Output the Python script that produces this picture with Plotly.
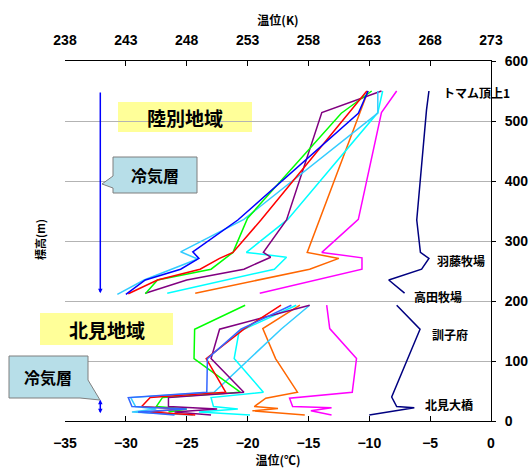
import plotly.graph_objects as go

# ---- 陸別地域 (upper profiles): height (m) and temperature (degC)
rk_blue_h = [211, 235, 253, 271, 282, 335, 513, 550]
rk_blue_t = [-30.0, -28.4, -25.5, -24.0, -24.5, -20.8, -10.9, -10.1]
rk_sky_h = [211, 235, 270, 282, 336, 513, 550]
rk_sky_t = [-30.7, -28.5, -24.1, -25.5, -20.3, -9.3, -9.3]
rk_aqua_h = [213, 253, 273, 281, 336, 514, 550]
rk_aqua_t = [-26.6, -17.8, -16.8, -20.1, -16.7, -9.3, -8.9]
rk_green_h = [212, 235, 253, 281, 338, 513, 550]
rk_green_t = [-28.4, -27.4, -23.0, -21.2, -20.0, -12.3, -9.8]
rk_red_h = [212, 235, 253, 271, 281, 335, 513, 550]
rk_red_t = [-29.8, -27.4, -23.9, -22.3, -21.2, -18.9, -11.7, -10.2]
rk_purple_h = [213, 235, 253, 273, 281, 335, 514, 550]
rk_purple_t = [-28.4, -25.0, -20.3, -18.1, -18.7, -16.8, -13.9, -9.0]
rk_orange_h = [213, 253, 271, 281, 550]
rk_orange_t = [-24.3, -14.9, -12.5, -15.1, -10.1]
rk_magenta_h = [213, 253, 272, 281, 336, 514, 550]
rk_magenta_t = [-19.0, -10.6, -10.6, -13.9, -10.9, -9.0, -7.75]

# ---- 北見地域 (lower profiles)
kt_blue_h = [193, 153, 104, 48, 39, 24, 20, 15, 10]
kt_blue_t = [-16.4, -20.55, -23.3, -23.35, -29.8, -29.5, -25.0, -29.0, -26.0]
kt_sky_h = [193, 153, 48, 39, 24, 20, 15, 10]
kt_sky_t = [-14.9, -17.25, -22.75, -29.6, -29.2, -27.5, -29.5, -24.5]
kt_green_h = [193, 153, 104, 48, 39, 24, 20, 15]
kt_green_t = [-20.2, -24.35, -24.4, -20.6, -27.0, -27.5, -25.0, -26.5]
kt_red_h = [193, 153, 104, 48, 39, 24, 20, 15, 10]
kt_red_t = [-17.25, -20.3, -23.4, -21.8, -28.0, -28.7, -25.5, -28.0, -24.3]
kt_purple_h = [193, 153, 104, 48, 39, 24, 20, 15, 10]
kt_purple_t = [-14.9, -22.3, -23.0, -20.3, -26.5, -26.5, -22.5, -26.0, -23.0]
kt_aqua_h = [193, 149, 104, 48, 39, 24, 20, 15, 10]
kt_aqua_t = [-16.0, -20.7, -21.1, -18.7, -23.0, -22.8, -20.8, -24.0, -19.8]
kt_orange_h = [193, 154, 104, 48, 38, 24, 21, 17, 10]
kt_orange_t = [-15.7, -18.75, -17.7, -15.9, -18.5, -19.45, -17.5, -19.6, -15.3]
kt_magenta_h = [193, 154, 104, 48, 38, 24, 22, 17, 10]
kt_magenta_t = [-13.5, -13.25, -11.05, -11.4, -16.55, -16.3, -13.1, -14.8, -13.1]

# ---- route profile with station names
route_up_h = [213, 235, 253, 271, 281, 335, 518, 550]
route_up_t = [-7.1, -8.4, -5.7, -5.1, -5.8, -6.1, -5.3, -5.1]
route_lo_h = [193, 153, 40, 24, 22, 10]
route_lo_t = [-7.75, -5.83, -8.16, -7.75, -6.3, -10.0]
station_names = ["トマム頂上1", "羽藤牧場", "高田牧場", "訓子府", "北見大橋"]
station_t = [-4.1, -4.6, -6.5, -5.0, -5.6]
station_h = [548, 268, 208, 145, 28]

# cold-air layer extents (m)
cold_upper = [213, 550]
cold_lower = [13, 38]
cold_x = -32.1

x_ticks_c = [-35, -30, -25, -20, -15, -10, -5, 0]
x_ticks_k = [238, 243, 248, 253, 258, 263, 268, 273]
y_ticks = [0, 100, 200, 300, 400, 500, 600]

C_BLUE, C_SKY, C_AQUA = "#0000FF", "#33CCFF", "#00FFFF"
C_GREEN, C_RED, C_PURPLE = "#00FF00", "#FF0000", "#800080"
C_ORANGE, C_MAGENTA, C_NAVY = "#FF6600", "#FF00FF", "#000080"
C_ROYAL = "#3366FF"

FONT = "Liberation Sans, Noto Sans CJK JP, sans-serif"
JFONT = "Noto Sans CJK JP, sans-serif"

fig = go.Figure()


def add_line(t, h, color):
    fig.add_trace(go.Scatter(x=t, y=h, mode="lines",
                             line=dict(color=color, width=1.5),
                             showlegend=False, hoverinfo="skip"))


for t, h, c in [
    (rk_magenta_t, rk_magenta_h, C_MAGENTA), (rk_orange_t, rk_orange_h, C_ORANGE),
    (rk_aqua_t, rk_aqua_h, C_AQUA), (rk_purple_t, rk_purple_h, C_PURPLE),
    (rk_sky_t, rk_sky_h, C_SKY), (rk_green_t, rk_green_h, C_GREEN),
    (rk_red_t, rk_red_h, C_RED), (rk_blue_t, rk_blue_h, C_BLUE),
    (kt_magenta_t, kt_magenta_h, C_MAGENTA), (kt_orange_t, kt_orange_h, C_ORANGE),
    (kt_aqua_t, kt_aqua_h, C_AQUA), (kt_sky_t, kt_sky_h, C_SKY),
    (kt_green_t, kt_green_h, C_GREEN), (kt_purple_t, kt_purple_h, C_PURPLE),
    (kt_red_t, kt_red_h, C_RED), (kt_blue_t, kt_blue_h, C_ROYAL),
    (route_up_t, route_up_h, C_NAVY), (route_lo_t, route_lo_h, C_NAVY),
]:
    add_line(t, h, c)

# invisible trace to carry the Kelvin axis
fig.add_trace(go.Scatter(x=[x_ticks_k[0]], y=[0], xaxis="x2", mode="markers",
                         marker=dict(opacity=0), showlegend=False, hoverinfo="skip"))

annotations = []
for name, t, h in zip(station_names, station_t, station_h):
    annotations.append(dict(x=t, y=h, xref="x", yref="y", text=name, showarrow=False,
                            xanchor="left", yanchor="middle",
                            font=dict(family=JFONT, size=12, color="black", weight="bold")))

# cold-layer arrows
annotations.append(dict(x=cold_x, y=cold_upper[0], ax=cold_x, ay=cold_upper[1],
                        xref="x", yref="y", axref="x", ayref="y", text="",
                        showarrow=True, arrowhead=2, arrowsize=0.6, arrowwidth=1.5,
                        arrowcolor="#0000FF", arrowside="end"))
annotations.append(dict(x=cold_x, y=cold_lower[0], ax=cold_x, ay=cold_lower[1],
                        xref="x", yref="y", axref="x", ayref="y", text="",
                        showarrow=True, arrowhead=2, arrowsize=0.6, arrowwidth=1.5,
                        arrowcolor="#0000FF", arrowside="end+start"))

# plot-area pixel geometry for decoration boxes
L, R, T, B = 65, 491, 61, 421


def px(x):
    return (x - L) / (R - L)


def py(y):
    return (B - y) / (B - T)


def label(x, y, txt, size):
    annotations.append(dict(x=px(x), y=py(y), xref="paper", yref="paper", text=txt,
                            showarrow=False, xanchor="center", yanchor="middle",
                            font=dict(family=JFONT, size=size, color="black", weight="bold")))


shapes = []
# region labels
for (x0, y0, x1, y1, txt) in [(118, 102, 252, 132, "陸別地域"), (40, 313, 173, 345, "北見地域")]:
    shapes.append(dict(type="rect", xref="paper", yref="paper",
                       x0=px(x0), x1=px(x1), y0=py(y1), y1=py(y0),
                       fillcolor="#FFFF99", line=dict(width=0), layer="below"))
    label((x0 + x1) / 2, (y0 + y1) / 2, txt, 19)


# callouts
def callout(pts):
    d = "M " + " L ".join(f"{px(a)},{py(b)}" for a, b in pts) + " Z"
    shapes.append(dict(type="path", xref="paper", yref="paper", path=d,
                       fillcolor="#B7DEE8", line=dict(color="#7F7F7F", width=1), layer="above"))


callout([(113, 157), (197, 157), (197, 193), (113, 193), (113, 188), (102, 184), (113, 176)])
callout([(9, 356), (88, 356), (88, 380), (100, 400), (80, 398), (9, 398)])
label(155, 175, "冷気層", 16)
label(48, 377, "冷気層", 16)

# left-side height title
annotations.append(dict(x=px(40), y=py(240), xref="paper", yref="paper", text="標高(m)",
                        showarrow=False, textangle=-90, xanchor="center", yanchor="middle",
                        font=dict(family=JFONT, size=11, color="black", weight="bold")))

tickfont = dict(family=FONT, size=14, color="black", weight="bold")
titlefont = dict(family=JFONT, size=12, color="black", weight="bold")

fig.update_layout(
    width=530, height=471,
    margin=dict(l=L, r=530 - R, t=T, b=471 - B, autoexpand=False),
    paper_bgcolor="white", plot_bgcolor="white",
    showlegend=False,
    xaxis=dict(range=[-35, 0], tickvals=x_ticks_c, ticks="inside", ticklen=5,
               tickcolor="black", showline=True, linecolor="black", linewidth=1,
               showgrid=False, zeroline=False, tickfont=tickfont, ticklabelstandoff=9,
               title=dict(text="温位(℃)", font=titlefont, standoff=6)),
    xaxis2=dict(range=[238, 273], tickvals=x_ticks_k, overlaying="x", side="top",
                anchor="y", ticks="inside", ticklen=5, tickcolor="black",
                showline=True, linecolor="black", linewidth=1, showgrid=False,
                zeroline=False, tickfont=tickfont, ticklabelstandoff=9,
                title=dict(text="温位(K)", font=titlefont, standoff=4)),
    yaxis=dict(range=[0, 600], tickvals=y_ticks, side="right", ticks="outside",
               ticklen=4, tickcolor="black", showline=True, linecolor="black",
               linewidth=1, showgrid=True, gridcolor="#B3B3B3", gridwidth=1,
               zeroline=False, tickfont=tickfont, ticklabelstandoff=6),
    shapes=shapes,
    annotations=annotations,
)

fig.write_html("out.html")
